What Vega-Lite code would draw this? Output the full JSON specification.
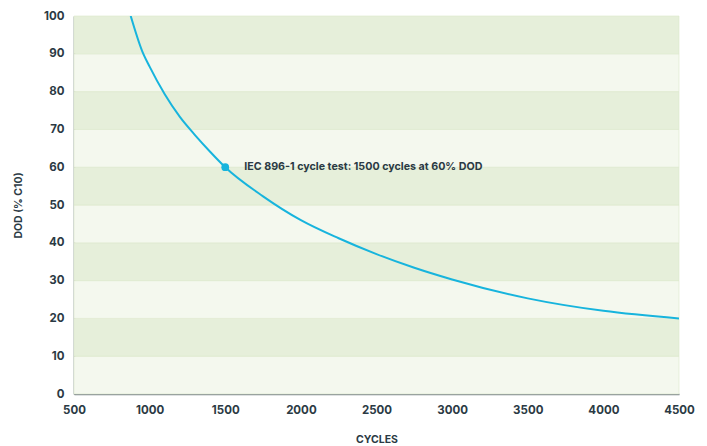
{
  "$schema": "https://vega.github.io/schema/vega-lite/v6.json",
  "width": 605,
  "height": 378,
  "autosize": "none",
  "padding": {"left": 74, "top": 16, "right": 28, "bottom": 52},
  "background": "#ffffff",
  "config": {
    "view": {"stroke": null},
    "font": "Inter",
    "axis": {"labelFont": "Inter", "titleFont": "Inter", "labelColor": "#2b3a44", "titleColor": "#2b3a44", "labelFontWeight": 700, "titleFontWeight": 700, "labelOverlap": false, "labelFlush": false, "labelSeparation": 0}
  },
  "datasets": {
    "bands": [
      {"lo": 0, "hi": 10, "shade": "light"},
      {"lo": 10, "hi": 20, "shade": "dark"},
      {"lo": 20, "hi": 30, "shade": "light"},
      {"lo": 30, "hi": 40, "shade": "dark"},
      {"lo": 40, "hi": 50, "shade": "light"},
      {"lo": 50, "hi": 60, "shade": "dark"},
      {"lo": 60, "hi": 70, "shade": "light"},
      {"lo": 70, "hi": 80, "shade": "dark"},
      {"lo": 80, "hi": 90, "shade": "light"},
      {"lo": 90, "hi": 100, "shade": "dark"}
    ],
    "curve": [
      {"cycles": 875, "dod": 100},
      {"cycles": 950, "dod": 90.8},
      {"cycles": 1000, "dod": 86.6},
      {"cycles": 1100, "dod": 79.3},
      {"cycles": 1200, "dod": 73.3},
      {"cycles": 1300, "dod": 68.5},
      {"cycles": 1400, "dod": 64.1},
      {"cycles": 1500, "dod": 60},
      {"cycles": 1750, "dod": 52.3},
      {"cycles": 2000, "dod": 46},
      {"cycles": 2250, "dod": 41.2},
      {"cycles": 2500, "dod": 37},
      {"cycles": 2750, "dod": 33.4},
      {"cycles": 3000, "dod": 30.3},
      {"cycles": 3500, "dod": 25.3},
      {"cycles": 4000, "dod": 22},
      {"cycles": 4500, "dod": 20}
    ],
    "point": [
      {"cycles": 1500, "dod": 60, "label": "IEC 896-1 cycle test: 1500 cycles at 60% DOD"}
    ]
  },
  "encoding": {
    "y": {"type": "quantitative", "scale": {"domain": [0, 100], "nice": false},
      "axis": {"title": "DOD (% C10)", "values": [0,10,20,30,40,50,60,70,80,90,100], "labelOverlap": false, "grid": false, "ticks": false, "labelPadding": 10, "labelFontSize": 11.5, "titleFontSize": 10.5, "domainColor": "#4a5660", "domainWidth": 1.5, "titlePadding": 20}}
  },
  "layer": [
    {
      "data": {"name": "bands"},
      "mark": {"type": "rect", "strokeWidth": 0.6},
      "encoding": {
        "y": {"field": "lo", "type": "quantitative"},
        "y2": {"field": "hi"},
        "color": {"field": "shade", "type": "nominal", "scale": {"domain": ["light", "dark"], "range": ["#f4f8ee", "#e6efda"]}, "legend": null},
        "stroke": {"value": "#dbe8cb"}
      }
    },
    {
      "data": {"name": "curve"},
      "mark": {"type": "line", "color": "#17b4dd", "strokeWidth": 2, "interpolate": "monotone", "clip": true},
      "encoding": {
        "x": {"field": "cycles", "type": "quantitative", "scale": {"domain": [500, 4500], "nice": false},
          "axis": {"title": "CYCLES", "format": "d", "values": [500,1000,1500,2000,2500,3000,3500,4000,4500], "labelOverlap": false, "grid": true, "gridColor": "#ffffff", "gridWidth": 1.2, "ticks": false, "labelPadding": 10, "labelFontSize": 11.5, "titleFontSize": 10.5, "domainColor": "#7d868c", "domainWidth": 1.5, "titlePadding": 19}},
        "y": {"field": "dod", "type": "quantitative"}
      }
    },
    {
      "data": {"name": "point"},
      "mark": {"type": "point", "filled": true, "size": 60, "color": "#17b4dd", "opacity": 1},
      "encoding": {
        "x": {"field": "cycles", "type": "quantitative"},
        "y": {"field": "dod", "type": "quantitative"}
      }
    },
    {
      "data": {"name": "point"},
      "mark": {"type": "text", "align": "left", "baseline": "middle", "dx": 19, "fontSize": 10.7, "fontWeight": 700, "color": "#2b3a44", "font": "Inter"},
      "encoding": {
        "x": {"field": "cycles", "type": "quantitative"},
        "y": {"field": "dod", "type": "quantitative"},
        "text": {"field": "label"}
      }
    }
  ]
}
